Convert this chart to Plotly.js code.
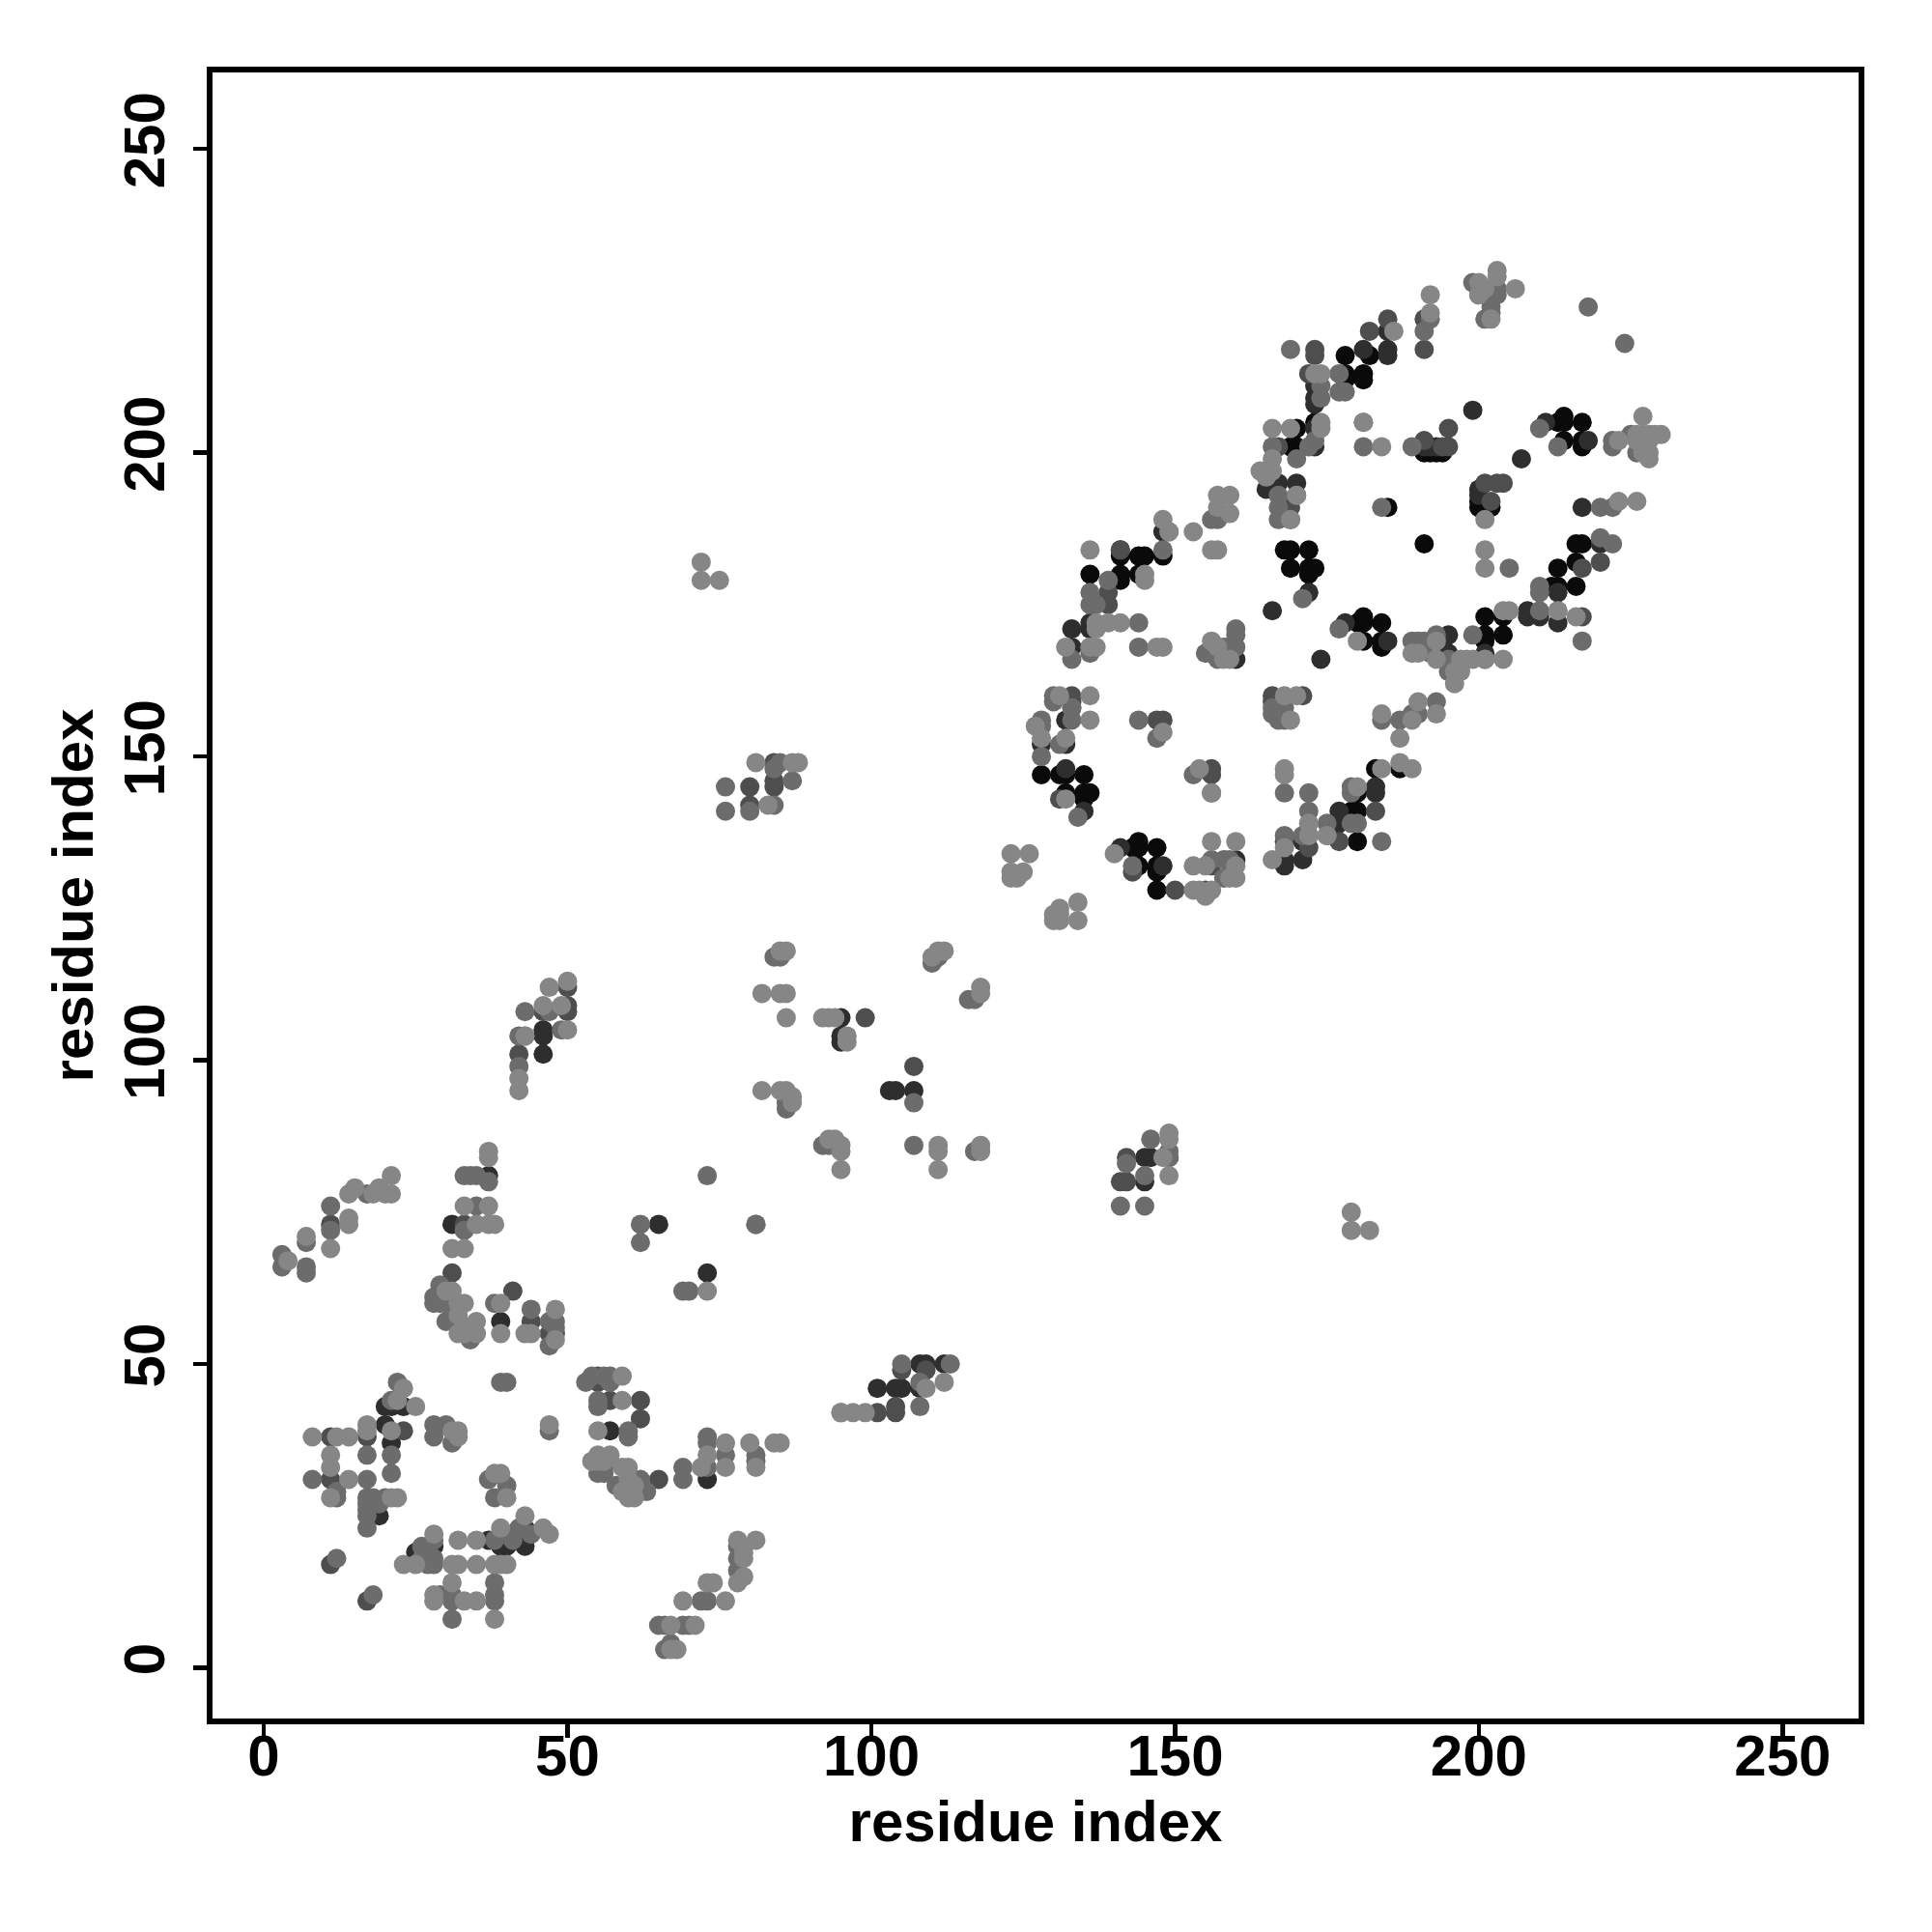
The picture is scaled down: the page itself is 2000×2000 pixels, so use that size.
<!DOCTYPE html>
<html><head><meta charset="utf-8">
<script src="https://cdn.plot.ly/plotly-3.0.1.min.js"></script>
<style>html,body{margin:0;padding:0;background:#fff}</style></head>
<body><div id="chart" style="width:2000px;height:2000px"></div>
<script>
const tickValues=[0,50,100,150,200,250];
const axisLabel="residue index";
const shadeLight="#868686",shadeMid="#6c6c6c",shadeDarkMid="#4e4e4e",shadeDark="#2e2e2e",shadeBlack="#0a0a0a";

const blackPts=[[141,183],[144,183],[145,183],[136,180],[141,180],[141,179],[144,180],[148,183],[169,184],[172,184],[169,181],[172,181],[172,180],[173,181],[168,184],
[128,147],[131,147],[132,147],[135,147],[132,144],[135,144],[135,143],[136,144],[144,136],[144,135],[143,135],[147,135],[144,132],[147,132],[147,131],[147,128],
[191,185],[216,185],[217,185],[216,182],[213,181],[216,178],[213,178],[212,178],[201,173],[204,173],[201,170],[201,169],[204,170],[180,144],[179,141],[180,141],[180,136],[187,148],[183,148],
[178,216],[182,216],[178,213],[178,212],[181,213],[181,212],[173,205],[170,204],[169,201],[170,201],[191,200],[192,200],[193,200],[194,200],[185,191],[213,205],[214,206],[214,205],[217,205],[214,202],[217,202],[217,201],[200,192],[200,191],[201,191],[202,191],
[180,172],[181,173],[181,172],[184,172],[181,169],[184,169],[184,168]];

const darkPts=[[95,107],[95,104],[95,103],[103,95],[104,95],[107,95],[20,43],[23,43],[21,43],[20,40],[21,37],[43,20],[39,20],[40,20],[43,23],[37,21],[25,19],[28,20],[19,25],[18,26],[39,57],[31,73],[37,81],[57,39],[73,31],[65,73],[73,65],[46,104],[46,105],[46,101],[101,46],[104,46],[105,46],[108,46],[108,50],[109,50],[112,50],
[145,84],[146,84],[149,84],[145,80],[141,184],[136,171],[136,172],[133,171],[133,168],[132,156],[128,152],[132,152],[132,148],[135,141],[172,177],[148,187],[141,135],[148,132],[168,133],[168,132],[171,133],[171,136],[160,133],[160,166],[177,141],[177,139],[183,145],[183,144],[185,220],[185,217],[185,216],[181,217],[173,211],[173,209],[173,208],[173,204],[173,201],[200,194],[200,193],[167,195],[170,195],[165,194],[199,207],[207,199],[211,205],[218,202],[174,166],[166,174],[195,170],[195,167],[201,167],[208,174],[208,173],[210,173],[213,172],[213,177],[220,185],[217,191],[191,201],[192,201],[193,201],[178,172],[185,169]];

const darkMidPts=[[42,101],[46,108],[50,109],[50,108],[50,112],[55,48],[55,47],[57,44],[62,41],[62,44],[41,62],[31,65],[33,73],[48,55],[47,55],[44,57],[11,73],[11,38],[11,31],[17,38],[23,39],[17,11],[11,17],[65,31],[101,42],[104,42],[104,43],[105,49],[109,49],[99,107],[107,99],[84,146],[84,145],[80,145],[80,142],[84,149],[141,80],[142,80],[142,84],[156,148],[156,147],[147,156],[148,156],[133,160],[133,159],[166,160],[166,159],[171,160],[167,158],[139,177],[139,175],[141,184],[172,135],[182,220],[191,217],[191,222],[172,213],[183,141],[177,136],[195,204],[195,201],[194,201],[191,202],[202,192],[204,195],[203,195],[201,195],[167,201],[169,191],[169,189],[173,216],[173,217],[185,222],[220,182],[217,173],[217,181],[150,128],[156,132],[155,128],[168,136],[143,131],[131,143]];

const midPts=[[3,68],[3,66],[7,70],[7,66],[7,65],[11,76],[11,72],[17,78],[33,81],[34,81],[35,81],[37,80],[35,76],[33,72],[29,63],[28,61],[28,60],[29,60],[29,61],[30,57],[31,59],[32,57],[34,54],[38,60],[44,59],[48,57],[47,57],[48,56],[47,53],[39,47],[40,47],[22,47],[21,44],[17,35],[21,35],[21,32],[8,31],[12,29],[17,31],[12,28],[18,12],[12,18],[17,28],[18,28],[19,27],[17,27],[17,26],[17,25],[17,23],[20,28],[28,40],[30,40],[28,38],[31,37],[47,39],[37,31],[40,30],[38,28],[44,22],[26,20],[26,18],[28,21],[28,17],[28,18],[27,17],[38,14],[38,12],[31,12],[31,8],[29,12],[31,11],[38,11],[38,21],[39,22],[41,21],[41,22],[42,23],
[53,47],[54,48],[56,48],[57,48],[57,47],[55,44],[55,43],[60,38],[60,39],[76,35],[81,35],[81,34],[69,31],[69,33],[73,38],[73,37],[73,33],[62,31],[55,32],[56,32],[56,33],[58,30],[63,29],[78,20],[78,18],[78,16],[73,11],[72,11],[69,7],[70,7],[65,7],[66,7],[66,3],[67,4],[105,50],[113,50],[108,47],[108,43],[95,42],[62,73],[62,70],[81,73],[70,62],[69,62],[73,81],[81,73],[76,145],[76,141],[80,141],[84,142],[84,148],[87,146],[85,149],[43,104],[42,104],[43,108],[47,108],[49,105],[42,99],[85,117],[84,117],[111,117],[110,116],[116,110],[117,110],[117,85],[92,86],[93,86],[107,93],[86,92],[86,93],[107,86],[149,85],[146,87],[142,83],[145,81],[141,76],[145,76],[149,84],[133,158],[133,156],[128,156],[128,155],[128,150],[131,152],[130,160],[130,159],[136,175],[137,175],[136,177],[139,179],[136,167],[136,168],[144,168],[144,172],[133,166],[133,158],[157,166],[158,168],[155,167],[156,167],[160,171],[160,170],[160,168],[159,168],[144,156],[147,153],[153,147],[156,144],[168,144],[172,144],[172,139],[175,139],[175,137],[172,137],[168,137],[171,137],[134,140],[171,176],[143,132],[158,133],[159,133],[156,133],[158,130],[166,158],[166,157],[168,158],[167,156],[168,156],[172,141],[180,139],[179,139],[184,136],[189,157],[190,157],[193,159],[187,156],[184,156],[179,145],[179,144],[181,201],[189,201],[184,191],[192,222],[191,220],[220,186],[222,185],[222,191],[220,191],[218,224],[224,218],[169,217],[172,201],[174,211],[174,209],[177,213],[177,210],[178,210],[170,199],[170,193],[167,193],[167,191],[167,189],[166,201],[156,189],[157,190],[157,189],[148,184],[149,187],[210,178],[210,177],[199,170],[193,170],[191,169],[192,167],[189,169],[190,169],[197,165],[195,166],[195,164],[201,166],[210,174],[213,174],[217,169],[205,181],[222,202],[222,201],[225,203],[226,200],[181,205],[210,204],[213,201],[173,202],[200,226],[202,223],[201,222],[202,224],[203,226],[203,227],[199,228],[177,171]];

const lightPts=[[4,67],[7,71],[14,74],[14,73],[14,78],[15,79],[18,78],[19,79],[20,78],[21,78],[21,81],[11,69],[37,85],[37,84],[33,76],[37,76],[35,73],[37,73],[38,73],[31,69],[33,69],[33,60],[32,60],[30,62],[31,62],[32,58],[33,55],[32,55],[35,57],[35,55],[34,56],[39,55],[39,60],[43,55],[44,55],[48,59],[48,54],[23,46],[22,44],[25,43],[17,40],[17,39],[21,39],[8,38],[12,38],[14,38],[11,35],[11,33],[14,31],[11,28],[21,28],[22,28],[47,40],[32,39],[32,38],[31,39],[38,32],[39,32],[40,28],[43,25],[46,23],[47,22],[39,23],[32,21],[35,21],[28,22],[23,17],[25,17],[31,17],[32,17],[35,17],[38,17],[39,17],[40,17],[31,14],[33,11],[35,11],[38,8],[28,12],[28,11],
[59,48],[59,44],[55,39],[57,35],[55,35],[54,34],[55,34],[56,34],[59,33],[60,33],[60,31],[61,30],[60,30],[60,28],[61,28],[59,29],[72,33],[76,37],[76,33],[80,37],[84,37],[85,37],[81,33],[73,35],[78,21],[81,21],[79,19],[79,18],[79,15],[78,14],[73,14],[74,14],[76,11],[69,11],[67,7],[71,7],[67,3],[68,3],[95,42],[97,42],[99,42],[112,47],[109,46],[73,62],[72,179],[72,182],[75,179],[179,75],[179,72],[182,72],[81,149],[83,142],[87,149],[88,149],[42,97],[42,95],[43,104],[47,112],[50,113],[50,105],[49,109],[46,109],[85,118],[86,118],[82,111],[85,111],[86,111],[86,107],[92,107],[93,107],[94,107],[96,104],[96,103],[111,118],[112,118],[110,117],[118,112],[118,111],[82,95],[85,95],[86,95],[87,94],[87,93],[93,87],[94,87],[95,86],[95,85],[95,82],[111,86],[111,85],[111,82],[118,86],[118,85],[149,88],[149,87],[148,84],[149,81],[123,134],[126,134],[123,131],[123,130],[124,130],[125,131],[130,124],[130,123],[131,125],[131,124],[131,123],[134,126],[134,123],[131,160],[136,160],[136,156],[127,155],[128,153],[132,153],[132,143],[148,154],[136,184],[145,180],[145,179],[137,172],[139,172],[141,172],[137,171],[136,168],[137,168],[147,168],[148,168],[132,168],[156,169],[157,168],[158,166],[159,166],[149,187],[153,187],[148,189],[159,190],[157,193],[159,193],[157,191],[156,184],[157,184],[168,148],[168,147],[156,144],[154,148],[169,156],[168,160],[170,160],[140,134],[153,128],[154,128],[156,128],[155,127],[153,132],[155,132],[156,136],[160,136],[159,130],[160,130],[160,132],[166,133],[168,135],[172,137],[172,139],[175,137],[184,157],[187,153],[189,156],[190,159],[193,157],[187,149],[184,148],[189,148],[180,145],[201,184],[201,181],[205,174],[204,174],[213,174],[216,173],[204,166],[199,166],[201,166],[189,167],[190,167],[193,169],[193,166],[197,166],[198,166],[197,164],[196,164],[196,162],[226,192],[223,192],[184,201],[181,205],[192,226],[192,223],[203,230],[203,229],[200,228],[200,226],[201,227],[206,227],[202,222],[227,206],[226,203],[227,203],[228,203],[229,203],[230,203],[226,202],[228,202],[228,200],[227,200],[228,199],[223,202],[174,205],[174,204],[174,213],[166,204],[169,204],[173,213],[186,220],[166,199],[164,197],[165,196],[166,197],[170,193],[169,189],[201,189],[180,169]];

function trace(pts,color){return {type:"scatter",mode:"markers",x:pts.map(p=>p[0]),y:pts.map(p=>p[1]),marker:{color:color,size:20,line:{width:0}},hoverinfo:"skip"};}
const axisBase={tickvals:tickValues,ticktext:tickValues.map(String),showgrid:false,zeroline:false,showline:true,linecolor:"#000",linewidth:6,mirror:true,ticks:"outside",ticklen:14,tickwidth:4.5,tickcolor:"#000",tickfont:{family:"Liberation Sans",size:60,color:"#000",weight:"bold"}};
Plotly.newPlot("chart",[trace(blackPts,shadeBlack),trace(darkPts,shadeDark),trace(darkMidPts,shadeDarkMid),trace(midPts,shadeMid),trace(lightPts,shadeLight)],{
 width:2000,height:2000,showlegend:false,paper_bgcolor:"#fff",plot_bgcolor:"#fff",
 margin:{l:220,r:76,t:75,b:221},
 xaxis:Object.assign({},axisBase,{range:[-8.43,262.5],ticklabelstandoff:-33,title:{text:"<b>"+axisLabel+"</b>",standoff:16,font:{family:"Liberation Sans",size:60,color:"#000"}}}),
 yaxis:Object.assign({},axisBase,{range:[-8.35,262.6],tickangle:-90,ticklabelstandoff:6,title:{text:"<b>"+axisLabel+"</b>",standoff:2,font:{family:"Liberation Sans",size:60,color:"#000"}}})
},{displayModeBar:false,staticPlot:true});
</script></body></html>
